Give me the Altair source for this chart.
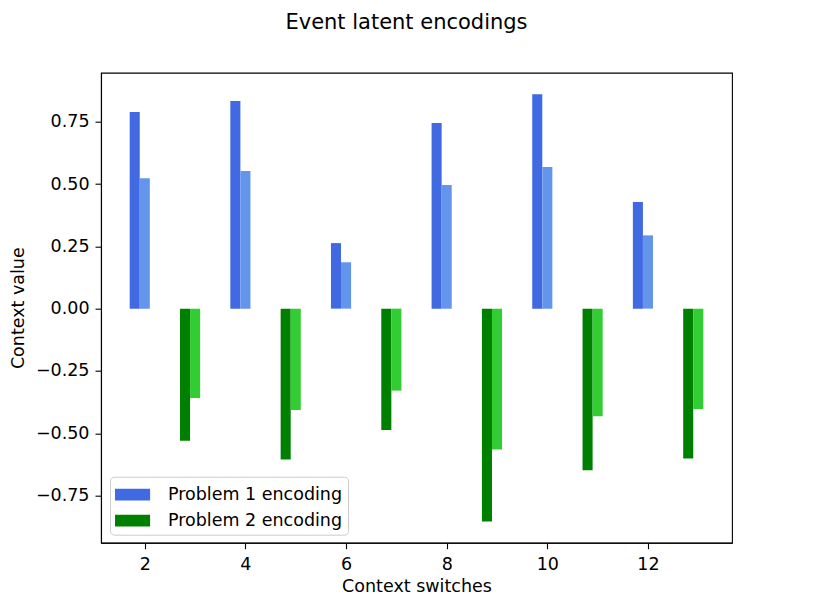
import altair as alt
import pandas as pd

# ---- data ----
p1_centers = [2, 4, 6, 8, 10, 12]
p2_centers = [3, 5, 7, 9, 11, 13]
p1_dark = [0.789, 0.833, 0.263, 0.745, 0.860, 0.428]
p1_light = [0.523, 0.552, 0.186, 0.496, 0.568, 0.294]
p2_dark = [-0.530, -0.605, -0.487, -0.854, -0.648, -0.601]
p2_light = [-0.359, -0.407, -0.329, -0.565, -0.432, -0.403]

series_names = ["Problem 1 encoding", "Problem 1 (second)", "Problem 2 encoding", "Problem 2 (second)"]
series_colors = ["#4169E1", "#6495ED", "#008000", "#32CD32"]
x_ticks = [2, 4, 6, 8, 10, 12]
y_ticks = [-0.75, -0.5, -0.25, 0.0, 0.25, 0.5, 0.75]

BAR_W = 0.2
rows = []
for centers, vals, name, off in [
    (p1_centers, p1_dark, series_names[0], -0.3),
    (p1_centers, p1_light, series_names[1], -0.1),
    (p2_centers, p2_dark, series_names[2], -0.3),
    (p2_centers, p2_light, series_names[3], -0.1),
]:
    for c, v in zip(centers, vals):
        rows.append({"x0": c + off, "x1": c + off + BAR_W, "value": v, "series": name})
df = pd.DataFrame(rows)

FONT = "DejaVu Sans"

legend = alt.Legend(
    title=None,
    values=[series_names[0], series_names[2]],
    orient="none",
    legendX=9,
    legendY=404,
    direction="vertical",
    symbolType="M-1,-0.45L1.7,-0.45L1.7,0.45L-1,0.45Z",
    symbolSize=676,
    symbolStrokeWidth=0,
    symbolOpacity=1,
    labelFont=FONT,
    labelFontSize=17.5,
    labelColor="black",
    labelOffset=27,
    labelLimit=400,
    rowPadding=4,
    padding=5,
    cornerRadius=4,
    strokeColor="#cccccc",
    fillColor="rgba(255,255,255,0.8)",
)

chart = (
    alt.Chart(df)
    .mark_bar(strokeWidth=0)
    .encode(
        x=alt.X(
            "x0:Q",
            title="Context switches",
            scale=alt.Scale(domain=[1.13, 13.67], nice=False, zero=False),
            axis=alt.Axis(values=x_ticks, format="d", labelPadding=6.5, titlePadding=5),
        ),
        x2="x1:Q",
        y=alt.Y(
            "value:Q",
            title="Context value",
            scale=alt.Scale(domain=[-0.939, 0.9466], nice=False),
            axis=alt.Axis(values=y_ticks, format=".2f", labelPadding=6, titlePadding=8),
        ),
        y2=alt.datum(0),
        color=alt.Color(
            "series:N",
            scale=alt.Scale(domain=series_names, range=series_colors),
            legend=legend,
        ),
    )
    .properties(
        width=631,
        height=470,
        title=alt.TitleParams(
            "Event latent encodings",
            font=FONT,
            fontSize=21,
            fontWeight="normal",
            color="black",
            anchor="middle",
            baseline="alphabetic",
            offset=22.5,
            dx=-10,
        ),
        autosize=alt.AutoSizeParams(type="none"),
        padding={"left": 93, "top": 64.7, "right": 74, "bottom": 59},
    )
    .configure_view(stroke="black", strokeWidth=1.1)
    .configure_axis(
        grid=False,
        domainColor="black",
        domainWidth=1.1,
        tickColor="black",
        tickSize=6,
        tickWidth=1.1,
        labelFont=FONT,
        labelFontSize=17.5,
        labelColor="black",
        titleFont=FONT,
        titleFontSize=17.5,
        titleFontWeight="normal",
        titleColor="black",
    )
)

chart.save("out.html", embed_options={"renderer": "svg", "actions": False})
